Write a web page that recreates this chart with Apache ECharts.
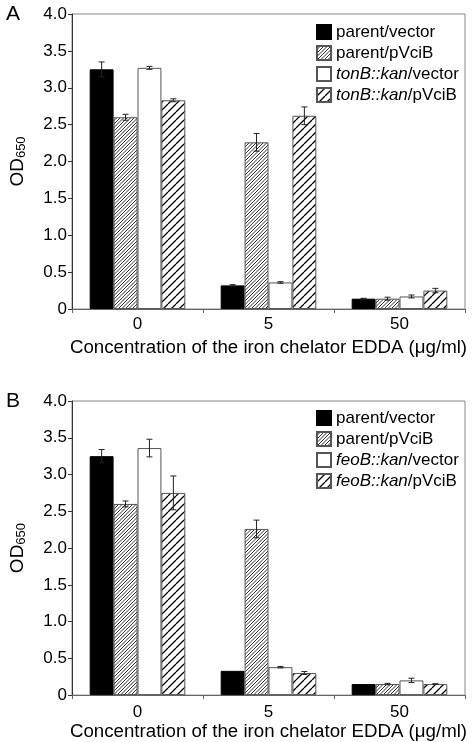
<!DOCTYPE html>
<html>
<head>
<meta charset="utf-8">
<script src="https://cdn.jsdelivr.net/npm/echarts@6/dist/echarts.min.js"></script>
<style>html,body{margin:0;padding:0;background:#fff;}#c{width:472px;height:742px;}</style>
</head>
<body>
<div id="c"></div>
<script>
// ---- data ----
const categories = ['0', '5', '50'];
const yTicks = [0, 0.5, 1.0, 1.5, 2.0, 2.5, 3.0, 3.5, 4.0];
const namesA = ['parent/vector', 'parent/pVciB', 'tonB::kan/vector', 'tonB::kan/pVciB'];
const namesB = ['parent/vector', 'parent/pVciB', 'feoB::kan/vector', 'feoB::kan/pVciB'];

const A_parentVector = [3.25, 0.32, 0.14];
const A_parentPVciB = [2.60, 2.26, 0.14];
const A_tonBVector = [3.27, 0.36, 0.17];
const A_tonBPVciB = [2.83, 2.62, 0.25];
const A_errParentVector = [0.10, 0.01, 0.005];
const A_errParentPVciB = [0.04, 0.12, 0.02];
const A_errTonBVector = [0.02, 0.01, 0.02];
const A_errTonBPVciB = [0.02, 0.12, 0.03];

const B_parentVector = [3.25, 0.33, 0.15];
const B_parentPVciB = [2.60, 2.26, 0.15];
const B_feoBVector = [3.36, 0.38, 0.20];
const B_feoBPVciB = [2.75, 0.30, 0.15];
const B_errParentVector = [0.09, 0.0, 0.0];
const B_errParentPVciB = [0.04, 0.12, 0.01];
const B_errFeoBVector = [0.12, 0.01, 0.03];
const B_errFeoBPVciB = [0.23, 0.02, 0.005];

const xTitle = 'Concentration of the iron chelator EDDA (\u03bcg/ml)';

// ---- styling helpers ----
const FONT = '"Liberation Sans", Arial, sans-serif';
const GAP = 0.27;

function makeHatch(s, n, lw, col) {
  const c = document.createElement('canvas');
  c.width = s; c.height = s;
  const g = c.getContext('2d');
  g.fillStyle = '#fff'; g.fillRect(0, 0, s, s);
  g.strokeStyle = col; g.lineWidth = lw;
  g.beginPath();
  for (let k = -1; k <= 1; k++) {
    for (let j = 0; j < n; j++) {
      const o = k * s + j * s / n;
      g.moveTo(o, s); g.lineTo(o + s, 0);
    }
  }
  g.stroke();
  return c;
}
const denseHatch = { image: makeHatch(7, 2, 0.85, '#111'), repeat: 'repeat' };
const wideHatch = { image: makeHatch(8, 1, 1.3, '#000'), repeat: 'repeat' };
const fills = ['#000', denseHatch, '#fff', wideHatch];
const borders = ['#000', '#555', '#555', '#555'];

function barSeries(name, data, k, gi) {
  return {
    type: 'bar', name: name, data: data, xAxisIndex: gi, yAxisIndex: gi,
    barGap: '0%', barCategoryGap: (GAP * 100) + '%',
    itemStyle: { color: fills[k], borderColor: borders[k], borderWidth: 1 },
    emphasis: { disabled: true }, animation: false
  };
}

function errSeries(vals, errs, k, gi) {
  return {
    type: 'custom', xAxisIndex: gi, yAxisIndex: gi, z: 10, animation: false, silent: true,
    data: vals.map((v, i) => [i, v, errs[i], k]),
    renderItem: function (params, api) {
      const cat = api.value(0), v = api.value(1), e = api.value(2), kk = api.value(3);
      if (!e) return null;
      const c = api.coord([cat, v]);
      const catW = api.size([1, 0])[0];
      const bw = catW * (1 - GAP) / 4;
      const x = c[0] - 2 * bw + (kk + 0.5) * bw;
      const yt = api.coord([cat, v + e])[1];
      const yb = api.coord([cat, v - e])[1];
      const cw = 3;
      const st = { stroke: '#222', lineWidth: 1 };
      return {
        type: 'group', children: [
          { type: 'line', shape: { x1: x, y1: yt, x2: x, y2: yb }, style: st },
          { type: 'line', shape: { x1: x - cw, y1: yt, x2: x + cw, y2: yt }, style: st },
          { type: 'line', shape: { x1: x - cw, y1: yb, x2: x + cw, y2: yb }, style: st }
        ]
      };
    }
  };
}

function legendFormatter(name) {
  const m = name.match(/^(tonB::kan|feoB::kan)(.*)$/);
  if (m) return '{i|' + m[1] + '}{n|' + m[2] + '}';
  return '{n|' + name + '}';
}

function xAxisCfg(gi, nameGap, labelMargin) {
  return {
    type: 'category', gridIndex: gi, data: categories,
    name: xTitle, nameLocation: 'middle', nameGap: nameGap,
    nameTextStyle: { fontSize: 18.7, color: '#000', fontFamily: FONT },
    axisLine: { lineStyle: { color: '#666', width: 1 } },
    axisTick: { show: true, length: 4, lineStyle: { color: '#666' } },
    axisLabel: { fontSize: 17, color: '#000', fontFamily: FONT, margin: labelMargin },
    splitLine: { show: false }
  };
}

function yAxisCfg(gi) {
  return {
    type: 'value', gridIndex: gi, min: 0, max: 4, interval: 0.5,
    name: '{a|OD}{b|650}', nameLocation: 'middle', nameGap: 44, nameRotate: 90,
    nameTextStyle: {
      color: '#000', fontFamily: FONT,
      rich: {
        a: { fontSize: 19, fontFamily: FONT, color: '#000' },
        b: { fontSize: 13, fontFamily: FONT, color: '#000', padding: [8, 0, 0, 0] }
      }
    },
    axisLine: { show: true, lineStyle: { color: '#333', width: 1 } },
    axisTick: { show: true, length: 4, lineStyle: { color: '#333' } },
    axisLabel: {
      fontSize: 17, color: '#000', fontFamily: FONT, margin: 5,
      formatter: v => (v === 0 ? '0' : v.toFixed(1))
    },
    splitLine: { show: false }
  };
}

function legendCfg(names, top) {
  return {
    data: names, orient: 'vertical', left: 311, top: top,
    itemWidth: 14, itemHeight: 14, itemGap: 3, icon: 'rect',
    formatter: legendFormatter,
    textStyle: {
      fontSize: 17, color: '#000', fontFamily: FONT, lineHeight: 18,
      rich: {
        i: { fontSize: 17, fontStyle: 'italic', fontFamily: FONT, color: '#000', lineHeight: 18 },
        n: { fontSize: 17, fontFamily: FONT, color: '#000', lineHeight: 18 }
      }
    },
    selectedMode: false
  };
}

const chart = echarts.init(document.getElementById('c'), null, { renderer: 'canvas' });
const option = {
  backgroundColor: '#fff',
  animation: false,
  title: [
    { text: 'A', left: 1, top: -1, textStyle: { fontSize: 21, fontWeight: 'normal', color: '#000', fontFamily: FONT } },
    { text: 'B', left: 1, top: 386, textStyle: { fontSize: 21, fontWeight: 'normal', color: '#000', fontFamily: FONT } }
  ],
  grid: [
    { left: 56, top: 14, width: 409, height: 295, show: true, borderColor: '#888', borderWidth: 1, backgroundColor: 'transparent' },
    { left: 56, top: 401, width: 409, height: 296, show: true, borderColor: '#888', borderWidth: 1, backgroundColor: 'transparent' }
  ],
  legend: [legendCfg(namesA, 18), legendCfg(namesB, 404)],
  xAxis: [xAxisCfg(0, 29, 7), xAxisCfg(1, 26, 9)],
  yAxis: [yAxisCfg(0), yAxisCfg(1)],
  series: [
    barSeries(namesA[0], A_parentVector, 0, 0),
    barSeries(namesA[1], A_parentPVciB, 1, 0),
    barSeries(namesA[2], A_tonBVector, 2, 0),
    barSeries(namesA[3], A_tonBPVciB, 3, 0),
    errSeries(A_parentVector, A_errParentVector, 0, 0),
    errSeries(A_parentPVciB, A_errParentPVciB, 1, 0),
    errSeries(A_tonBVector, A_errTonBVector, 2, 0),
    errSeries(A_tonBPVciB, A_errTonBPVciB, 3, 0),
    barSeries(namesB[0], B_parentVector, 0, 1),
    barSeries(namesB[1], B_parentPVciB, 1, 1),
    barSeries(namesB[2], B_feoBVector, 2, 1),
    barSeries(namesB[3], B_feoBPVciB, 3, 1),
    errSeries(B_parentVector, B_errParentVector, 0, 1),
    errSeries(B_parentPVciB, B_errParentPVciB, 1, 1),
    errSeries(B_feoBVector, B_errFeoBVector, 2, 1),
    errSeries(B_feoBPVciB, B_errFeoBPVciB, 3, 1)
  ]
};
chart.setOption(option);
</script>
</body>
</html>
